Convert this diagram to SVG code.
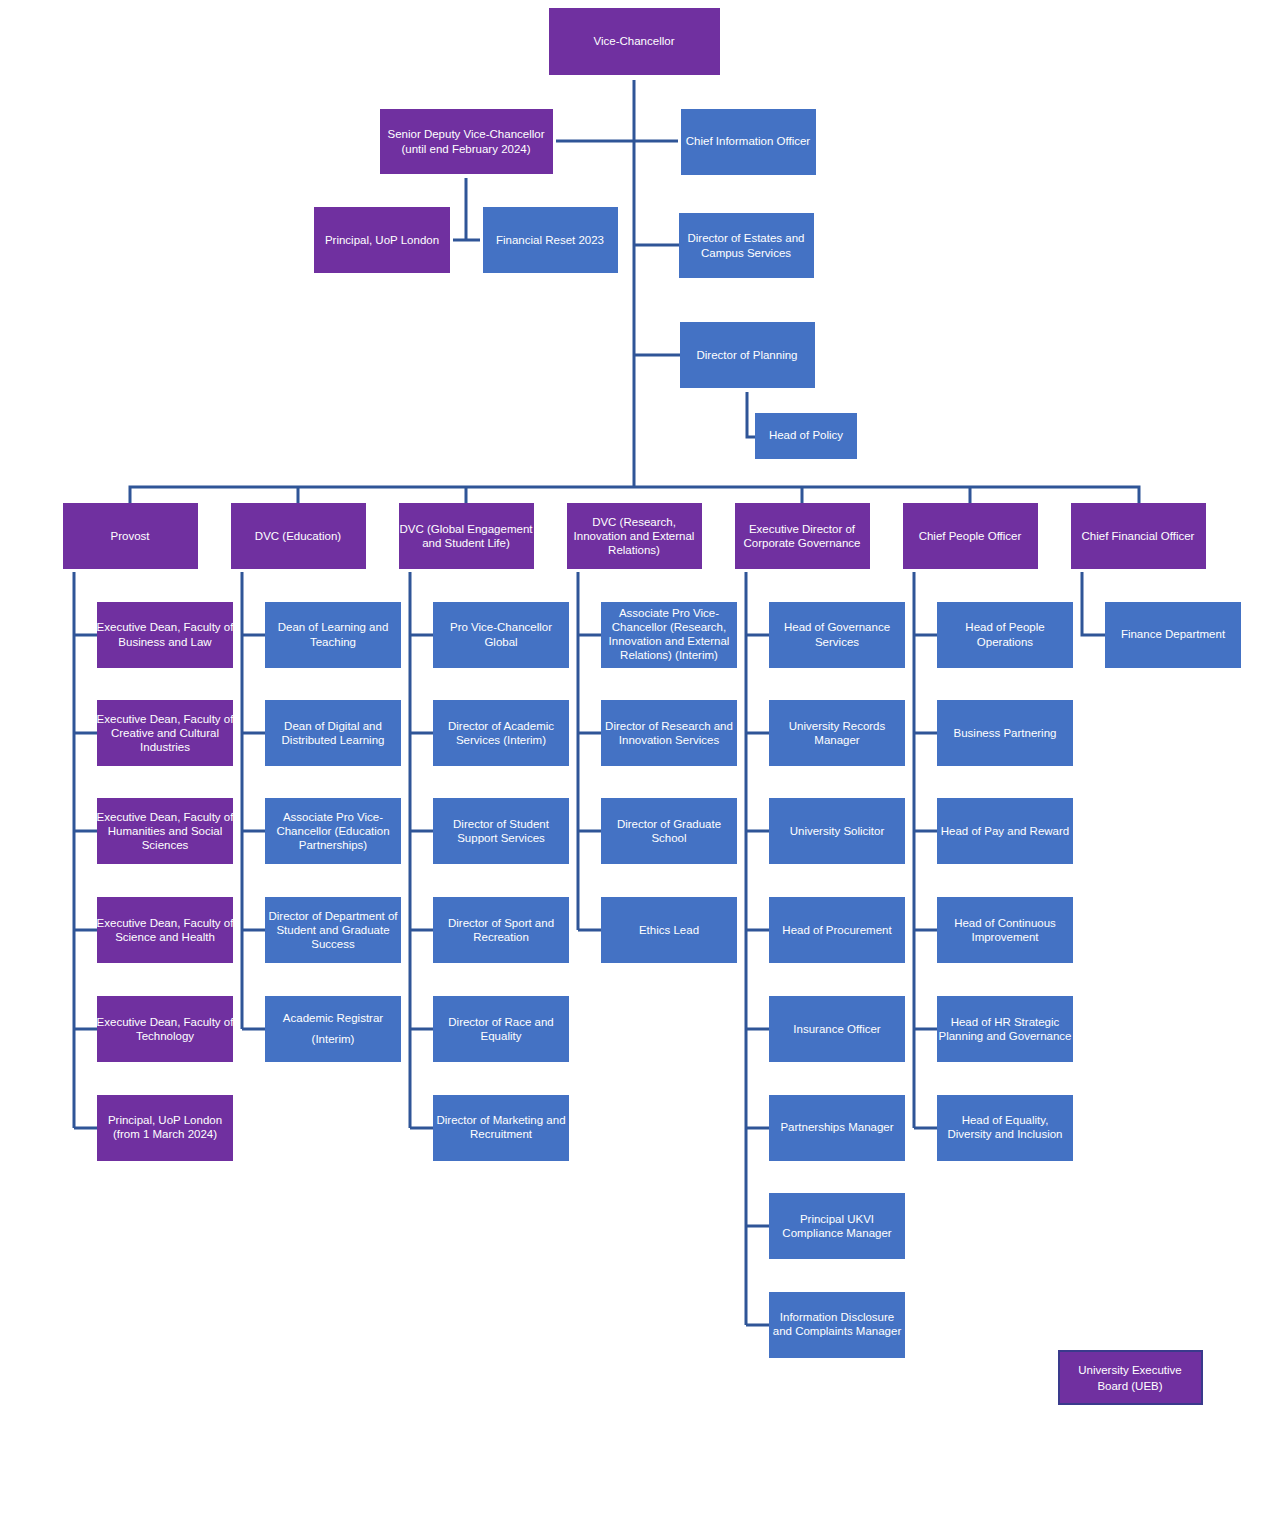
<svg xmlns="http://www.w3.org/2000/svg" width="1280" height="1514" viewBox="0 0 1280 1514">
<style>
.p{fill:#7030A0}.b{fill:#4472C4}
text{font-family:"Liberation Sans",Arial,sans-serif;font-size:11.5px;fill:#fff;text-anchor:middle}
.c path{fill:none;stroke:#2F5597;stroke-width:3}
</style>
<rect width="1280" height="1514" fill="#fff"/>
<g class="c">
<path d="M634 80V487M130 503V487H1139V503M298 487V503M466 487V503M802 487V503M970 487V503M556 141H678M634 245H679M634 355H680M747 392V437H755M466 178V240M453 240H480"/>
<path d="M74 572V1128M74 635H97M74 733H97M74 831H97M74 930H97M74 1029H97M74 1128H97"/>
<path d="M242 572V1029M242 635H265M242 733H265M242 831H265M242 930H265M242 1029H265"/>
<path d="M410 572V1128M410 635H433M410 733H433M410 831H433M410 930H433M410 1029H433M410 1128H433"/>
<path d="M578 572V930M578 635H601M578 733H601M578 831H601M578 930H601"/>
<path d="M746 572V1325M746 635H769M746 733H769M746 831H769M746 930H769M746 1029H769M746 1128H769M746 1226H769M746 1325H769"/>
<path d="M914 572V1128M914 635H937M914 733H937M914 831H937M914 930H937M914 1029H937M914 1128H937"/>
<path d="M1082 572V635H1105"/>
</g>
<g id="vc"><rect class="p" x="549" y="8" width="171" height="67"/><text x="634" y="45">Vice-Chancellor</text></g>
<g id="sdvc"><rect class="p" x="380" y="109" width="173" height="65"/><text x="466" y="138">Senior Deputy Vice-Chancellor</text><text x="466" y="153">(until end February 2024)</text></g>
<g id="cio"><rect class="b" x="681" y="109" width="135" height="66"/><text x="748" y="145">Chief Information Officer</text></g>
<g id="princ"><rect class="p" x="314" y="207" width="136" height="66"/><text x="382" y="244">Principal, UoP London</text></g>
<g id="fr"><rect class="b" x="483" y="207" width="135" height="66"/><text x="550" y="244">Financial Reset 2023</text></g>
<g id="est"><rect class="b" x="679" y="213" width="135" height="65"/><text x="746" y="242">Director of Estates and</text><text x="746" y="257">Campus Services</text></g>
<g id="plan"><rect class="b" x="680" y="322" width="135" height="66"/><text x="747" y="359">Director of Planning</text></g>
<g id="pol"><rect class="b" x="755" y="413" width="102" height="46"/><text x="806" y="439">Head of Policy</text></g>

<g id="provost"><rect class="p" x="63" y="503" width="135" height="66"/><text x="130" y="540">Provost</text></g>
<g id="dvced"><rect class="p" x="231" y="503" width="135" height="66"/><text x="298" y="540">DVC (Education)</text></g>
<g id="dvcge"><rect class="p" x="399" y="503" width="135" height="66"/><text x="466" y="533">DVC (Global Engagement</text><text x="466" y="547">and Student Life)</text></g>
<g id="dvcr"><rect class="p" x="567" y="503" width="135" height="66"/><text x="634" y="526">DVC (Research,</text><text x="634" y="540">Innovation and External</text><text x="634" y="554">Relations)</text></g>
<g id="edcg"><rect class="p" x="735" y="503" width="135" height="66"/><text x="802" y="533">Executive Director of</text><text x="802" y="547">Corporate Governance</text></g>
<g id="cpo"><rect class="p" x="903" y="503" width="135" height="66"/><text x="970" y="540">Chief People Officer</text></g>
<g id="cfo"><rect class="p" x="1071" y="503" width="135" height="66"/><text x="1138" y="540">Chief Financial Officer</text></g>

<g id="c1">
<rect class="p" x="97" y="602" width="136" height="66"/><text x="165" y="631">Executive Dean, Faculty of</text><text x="165" y="646">Business and Law</text>
<rect class="p" x="97" y="700" width="136" height="66"/><text x="165" y="723">Executive Dean, Faculty of</text><text x="165" y="737">Creative and Cultural</text><text x="165" y="751">Industries</text>
<rect class="p" x="97" y="798" width="136" height="66"/><text x="165" y="821">Executive Dean, Faculty of</text><text x="165" y="835">Humanities and Social</text><text x="165" y="849">Sciences</text>
<rect class="p" x="97" y="897" width="136" height="66"/><text x="165" y="927">Executive Dean, Faculty of</text><text x="165" y="941">Science and Health</text>
<rect class="p" x="97" y="996" width="136" height="66"/><text x="165" y="1026">Executive Dean, Faculty of</text><text x="165" y="1040">Technology</text>
<rect class="p" x="97" y="1095" width="136" height="66"/><text x="165" y="1124">Principal, UoP London</text><text x="165" y="1138">(from 1 March 2024)</text>
</g>
<g id="c2">
<rect class="b" x="265" y="602" width="136" height="66"/><text x="333" y="631">Dean of Learning and</text><text x="333" y="646">Teaching</text>
<rect class="b" x="265" y="700" width="136" height="66"/><text x="333" y="730">Dean of Digital and</text><text x="333" y="744">Distributed Learning</text>
<rect class="b" x="265" y="798" width="136" height="66"/><text x="333" y="821">Associate Pro Vice-</text><text x="333" y="835">Chancellor (Education</text><text x="333" y="849">Partnerships)</text>
<rect class="b" x="265" y="897" width="136" height="66"/><text x="333" y="920">Director of Department of</text><text x="333" y="934">Student and Graduate</text><text x="333" y="948">Success</text>
<rect class="b" x="265" y="996" width="136" height="66"/><text x="333" y="1022">Academic Registrar</text><text x="333" y="1043">(Interim)</text>
</g>
<g id="c3">
<rect class="b" x="433" y="602" width="136" height="66"/><text x="501" y="631">Pro Vice-Chancellor</text><text x="501" y="646">Global</text>
<rect class="b" x="433" y="700" width="136" height="66"/><text x="501" y="730">Director of Academic</text><text x="501" y="744">Services (Interim)</text>
<rect class="b" x="433" y="798" width="136" height="66"/><text x="501" y="828">Director of Student</text><text x="501" y="842">Support Services</text>
<rect class="b" x="433" y="897" width="136" height="66"/><text x="501" y="927">Director of Sport and</text><text x="501" y="941">Recreation</text>
<rect class="b" x="433" y="996" width="136" height="66"/><text x="501" y="1026">Director of Race and</text><text x="501" y="1040">Equality</text>
<rect class="b" x="433" y="1095" width="136" height="66"/><text x="501" y="1124">Director of Marketing and</text><text x="501" y="1138">Recruitment</text>
</g>
<g id="c4">
<rect class="b" x="601" y="602" width="136" height="66"/><text x="669" y="617">Associate Pro Vice-</text><text x="669" y="631">Chancellor (Research,</text><text x="669" y="645">Innovation and External</text><text x="669" y="659">Relations) (Interim)</text>
<rect class="b" x="601" y="700" width="136" height="66"/><text x="669" y="730">Director of Research and</text><text x="669" y="744">Innovation Services</text>
<rect class="b" x="601" y="798" width="136" height="66"/><text x="669" y="828">Director of Graduate</text><text x="669" y="842">School</text>
<rect class="b" x="601" y="897" width="136" height="66"/><text x="669" y="934">Ethics Lead</text>
</g>
<g id="c5">
<rect class="b" x="769" y="602" width="136" height="66"/><text x="837" y="631">Head of Governance</text><text x="837" y="646">Services</text>
<rect class="b" x="769" y="700" width="136" height="66"/><text x="837" y="730">University Records</text><text x="837" y="744">Manager</text>
<rect class="b" x="769" y="798" width="136" height="66"/><text x="837" y="835">University Solicitor</text>
<rect class="b" x="769" y="897" width="136" height="66"/><text x="837" y="934">Head of Procurement</text>
<rect class="b" x="769" y="996" width="136" height="66"/><text x="837" y="1033">Insurance Officer</text>
<rect class="b" x="769" y="1095" width="136" height="66"/><text x="837" y="1131">Partnerships Manager</text>
<rect class="b" x="769" y="1193" width="136" height="66"/><text x="837" y="1223">Principal UKVI</text><text x="837" y="1237">Compliance Manager</text>
<rect class="b" x="769" y="1292" width="136" height="66"/><text x="837" y="1321">Information Disclosure</text><text x="837" y="1335">and Complaints Manager</text>
</g>
<g id="c6">
<rect class="b" x="937" y="602" width="136" height="66"/><text x="1005" y="631">Head of People</text><text x="1005" y="646">Operations</text>
<rect class="b" x="937" y="700" width="136" height="66"/><text x="1005" y="737">Business Partnering</text>
<rect class="b" x="937" y="798" width="136" height="66"/><text x="1005" y="835">Head of Pay and Reward</text>
<rect class="b" x="937" y="897" width="136" height="66"/><text x="1005" y="927">Head of Continuous</text><text x="1005" y="941">Improvement</text>
<rect class="b" x="937" y="996" width="136" height="66"/><text x="1005" y="1026">Head of HR Strategic</text><text x="1005" y="1040">Planning and Governance</text>
<rect class="b" x="937" y="1095" width="136" height="66"/><text x="1005" y="1124">Head of Equality,</text><text x="1005" y="1138">Diversity and Inclusion</text>
</g>
<g id="c7"><rect class="b" x="1105" y="602" width="136" height="66"/><text x="1173" y="638">Finance Department</text></g>
<g id="ueb"><rect class="p" x="1059" y="1351" width="143" height="53" stroke="#3A3A8C" stroke-width="2"/><text x="1130" y="1374">University Executive</text><text x="1130" y="1390">Board (UEB)</text></g>
</svg>
